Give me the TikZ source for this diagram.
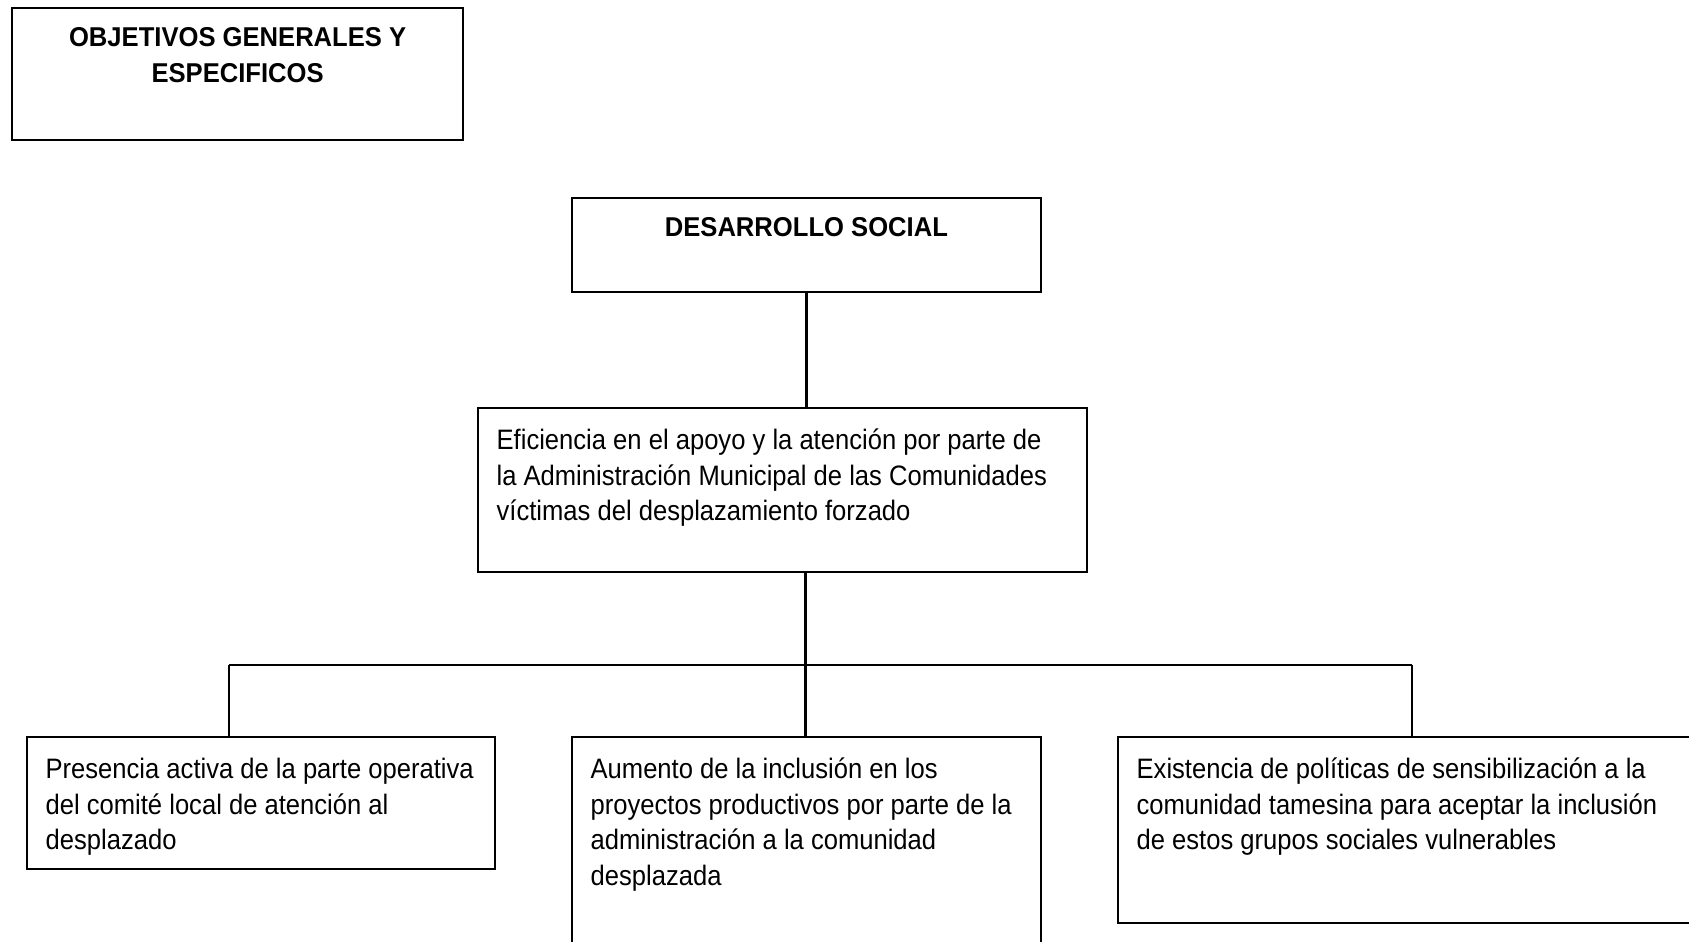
\documentclass[tikz,border=0pt]{standalone}
\usepackage{fontspec}
\setmainfont{Liberation Sans}[FakeStretch=0.91, BoldFeatures={FakeStretch=0.94}]
\usepackage{tikz}

% parbox de altura fija, texto arriba
\newcommand{\caja}[3]{\parbox[t][#2][t]{#1}{\raggedright\rule{0pt}{0.83cm}#3}}
\newcommand{\titulo}[3]{\parbox[t][#2][t]{#1}{\centering\rule{0pt}{0.76cm}#3}}

\begin{document}
\begin{tikzpicture}[
    recuadro/.style={draw, line width=1.3pt, anchor=north west, inner xsep=0.37cm, inner ysep=0pt,
      font=\fontsize{16}{20.2}\selectfont},
    cabecera/.style={recuadro, font=\fontsize{15.5}{20.9}\selectfont\bfseries},
    linea/.style={line width=1.3pt}
  ]
  \useasboundingbox (0,0) rectangle (33.78,-18.82);
  \clip (0,0) rectangle (33.78,-18.82);

  \node[cabecera] (obj) at (0.22,-0.14) {\titulo{8.28cm}{2.64cm}{OBJETIVOS GENERALES Y\\ESPECIFICOS}};
  \node[cabecera] (des) at (11.42,-3.94) {\titulo{8.63cm}{1.88cm}{DESARROLLO SOCIAL}};

  \node[recuadro] (efi) at (9.54,-8.14) {\caja{11.44cm}{3.28cm}{Eficiencia en el apoyo y la atención por parte de\\la Administración Municipal de las Comunidades\\víctimas del desplazamiento forzado}};

  \node[recuadro] (pre) at (0.52,-14.72) {\caja{8.61cm}{2.63cm}{Presencia activa de la parte operativa\\del comité local de atención al\\desplazado}};
  \node[recuadro] (aum) at (11.42,-14.72) {\caja{8.63cm}{4.8cm}{Aumento de la inclusión en los\\proyectos productivos por parte de la\\administración a la comunidad\\desplazada}};
  \node[recuadro] (exi) at (22.34,-14.72) {\caja{11.06cm}{3.72cm}{Existencia de políticas de sensibilización a la\\comunidad tamesina para aceptar la inclusión\\de estos grupos sociales vulnerables}};

  % conectores
  \coordinate (bus) at (16.11,-13.30);
  \coordinate (izq) at (4.58,-13.30);
  \coordinate (der) at (28.24,-13.30);
  \draw[linea] (des.south) -- (des.south |- efi.north);
  \draw[linea] (efi.south -| bus) -- (bus);
  \draw[linea] (izq) -- (der);
  \draw[linea] (izq) -- (izq |- pre.north);
  \draw[linea] (bus) -- (bus |- aum.north);
  \draw[linea] (der) -- (der |- exi.north);
\end{tikzpicture}
\end{document}
